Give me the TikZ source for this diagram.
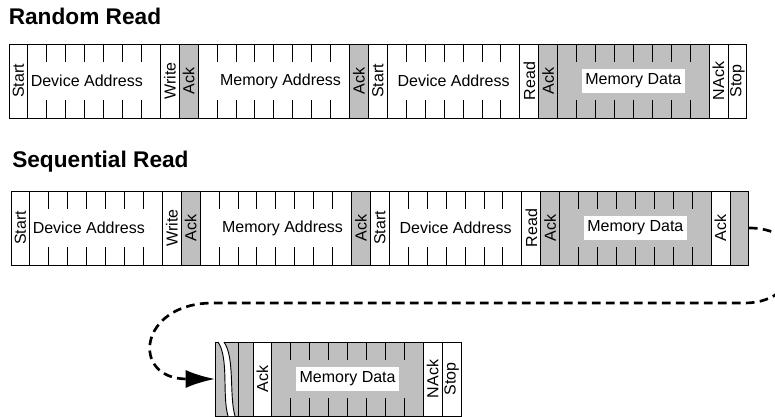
\documentclass[tikz,border=0pt]{standalone}
\usepackage{fontspec}
\setmainfont{Liberation Sans}
\usetikzlibrary{positioning,arrows.meta}

\newcommand{\vt}[1]{\rotatebox{90}{#1}}
\newlength{\bitw}
\setlength{\bitw}{14.19pt}

\begin{document}
\begin{tikzpicture}[x=0.75pt, y=-0.75pt,
    title/.style ={font=\fontsize{17}{20}\selectfont\bfseries, inner sep=0pt, anchor=base west},
    cell/.style ={draw, line width=0.7pt, outer sep=0pt, inner sep=0pt, minimum height=55.5pt,
                  font=\fontsize{12}{14}\selectfont},
    bit/.style ={cell, minimum width=\bitw},
    field/.style ={cell, minimum width=#1*\bitw, path picture={
        \foreach \k in {2,...,#1}
          \draw[line width=0.7pt]
            ([xshift=(\k-1)*\bitw]path picture bounding box.north west) -- ++(0,-13.5pt)
            ([xshift=(\k-1)*\bitw]path picture bounding box.south west) -- ++(0,13.5pt);}},
    shaded/.style ={fill=black!25},
    datalbl/.style ={fill=white, inner xsep=2.5pt, inner ysep=4pt, font=\fontsize{12}{14}\selectfont},
    flow/.style ={line width=2pt, dash pattern=on 6.5pt off 4pt, -{Latex[length=22pt, width=13.5pt]}}]
   \useasboundingbox (0,0) rectangle (775,417);

   \node[title] (t1) at (8.5,25) {Random Read};
   \node[bit, anchor=north west] (r1s) at (9,44) {\vt{Start}};
   \node[field=7, right=0pt of r1s] (r1dev) {Device Address\hspace{11pt}\mbox{}};
   \node[bit, right=0pt of r1dev] (r1wr) {\vt{Write}};
   \node[bit, shaded, right=0pt of r1wr] (r1ack1) {\vt{Ack}};
   \node[field=8, right=0pt of r1ack1] (r1mem) {\hspace{10pt}Memory Address};
   \node[bit, shaded, right=0pt of r1mem] (r1ack2) {\vt{Ack}};
   \node[bit, right=0pt of r1ack2] (r1s2) {\vt{Start}};
   \node[field=7, right=0pt of r1s2] (r1dev2) {Device Address};
   \node[bit, right=0pt of r1dev2] (r1rd) {\vt{Read}};
   \node[bit, shaded, right=0pt of r1rd] (r1ack3) {\vt{Ack}};
   \node[field=8, shaded, right=0pt of r1ack3] (r1data) {};
   \node[datalbl] (r1datalbl) at (r1data) {Memory Data};
   \node[bit, right=0pt of r1data] (r1nack) {\vt{NAck}};
   \node[bit, right=0pt of r1nack] (r1stop) {\vt{Stop}};

   \node[title] (t2) at (12,168) {Sequential Read};
   \node[bit, anchor=north west] (r2s) at (11,191) {\vt{Start}};
   \node[field=7, right=0pt of r2s] (r2dev) {Device Address\hspace{11pt}\mbox{}};
   \node[bit, right=0pt of r2dev] (r2wr) {\vt{Write}};
   \node[bit, shaded, right=0pt of r2wr] (r2ack1) {\vt{Ack}};
   \node[field=8, right=0pt of r2ack1] (r2mem) {\hspace{10pt}Memory Address};
   \node[bit, shaded, right=0pt of r2mem] (r2ack2) {\vt{Ack}};
   \node[bit, right=0pt of r2ack2] (r2s2) {\vt{Start}};
   \node[field=7, right=0pt of r2s2] (r2dev2) {Device Address};
   \node[bit, right=0pt of r2dev2] (r2rd) {\vt{Read}};
   \node[bit, shaded, right=0pt of r2rd] (r2ack3) {\vt{Ack}};
   \node[field=8, shaded, right=0pt of r2ack3] (r2data) {};
   \node[datalbl] (r2datalbl) at (r2data) {Memory Data};
   \node[bit, right=0pt of r2data] (r2mack) {\vt{Ack}};
   \node[bit, shaded, right=0pt of r2mack] (r2end) {};

   \node[cell, shaded, minimum width=17.25pt, anchor=north west] (r3cut) at (215,342) {};
   \node[cell, shaded, minimum width=11.25pt, right=0pt of r3cut] (r3bit) {};
   \node[bit, right=0pt of r3bit] (r3mack) {\vt{Ack}};
   \node[field=8, shaded, right=0pt of r3mack] (r3data) {};
   \node[datalbl] (r3datalbl) at (r3data) {Memory Data};
   \node[bit, right=0pt of r3data] (r3nack) {\vt{NAck}};
   \node[bit, right=0pt of r3nack] (r3stop) {\vt{Stop}};

   \fill[white] (218,342) .. controls (229,358) and (222,395) .. (228,416)
     -- (235,416) .. controls (229,395) and (235,358) .. (224,342) -- cycle;
   \draw[line width=0.7pt] (218,342) .. controls (229,358) and (222,395) .. (228,416);
   \draw[line width=0.7pt] (224,342) .. controls (235,358) and (229,395) .. (235,416);

   \coordinate (turnR) at (745,303);
   \coordinate (turnL) at (213,303);
   \draw[flow] (r2end.east) .. controls +(67,0) and +(60,0) .. (turnR) -- (turnL)
     .. controls +(-75,0) and +(-85,0) .. (r3cut.west);
 \end{tikzpicture}
\end{document}
